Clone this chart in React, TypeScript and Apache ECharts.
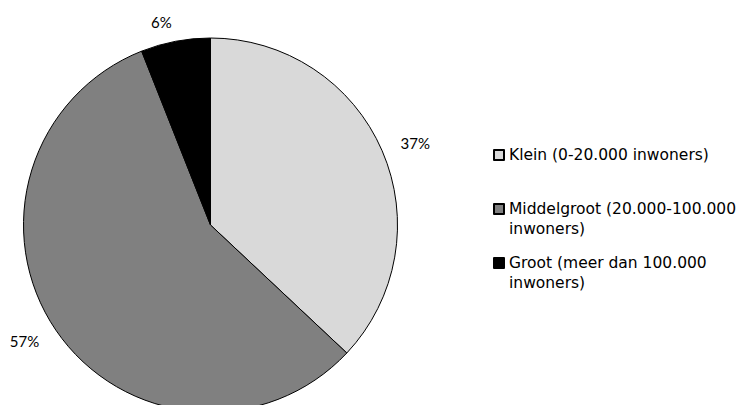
import React, { useEffect, useRef } from "react";
import * as echarts from "echarts";

const categories = [
  "Klein (0-20.000 inwoners)",
  "Middelgroot (20.000-100.000 inwoners)",
  "Groot (meer dan 100.000 inwoners)",
];
const values = [37, 57, 6];
const colors = ["#d9d9d9", "#808080", "#000000"];
const legendLines = [
  ["Klein (0-20.000 inwoners)"],
  ["Middelgroot (20.000-100.000", "inwoners)"],
  ["Groot (meer dan 100.000", "inwoners)"],
];

export default function App() {
  const ref = useRef<HTMLDivElement>(null);
  useEffect(() => {
    document.body.style.margin = "0";
    if (!ref.current) return;
    const chart = echarts.init(ref.current, null, { renderer: "svg" });
    chart.setOption({
      animation: false,
      backgroundColor: "#ffffff",
      legend: {
        orient: "vertical",
        left: 493,
        top: 125,
        padding: 0,
        itemGap: -6,
        itemWidth: 10,
        itemHeight: 10,
        icon: "rect",
        selectedMode: false,
        data: categories,
        textStyle: {
          fontFamily: "DejaVu Sans",
          fontSize: 15.5,
          lineHeight: 20,
          color: "#000000",
        },
        formatter: (name: string) => {
          const i = categories.indexOf(name);
          const lines = legendLines[i] || [name];
          const all = [" ", ...lines];
          while (all.length < 3) all.push(" ");
          return all.join("\n");
        },
      },
      series: [
        {
          type: "pie",
          center: [210.5, 225],
          radius: 187,
          startAngle: 90,
          clockwise: true,
          avoidLabelOverlap: false,
          silent: true,
          emphasis: { disabled: true },
          itemStyle: { borderColor: "#000000", borderWidth: 1 },
          label: {
            show: true,
            position: "outside",
            formatter: "{c}%",
            fontFamily: "Lato",
            fontSize: 15,
            color: "#000000",
            distanceToLabelLine: 0,
          },
          labelLine: { show: false, length: 20, length2: 0 },
          data: categories.map((name, i) => ({
            name,
            value: values[i],
            itemStyle: { color: colors[i] },
          })),
        },
      ],
    });
    return () => chart.dispose();
  }, []);
  return <div ref={ref} style={{ width: 737, height: 405 }} />;
}
